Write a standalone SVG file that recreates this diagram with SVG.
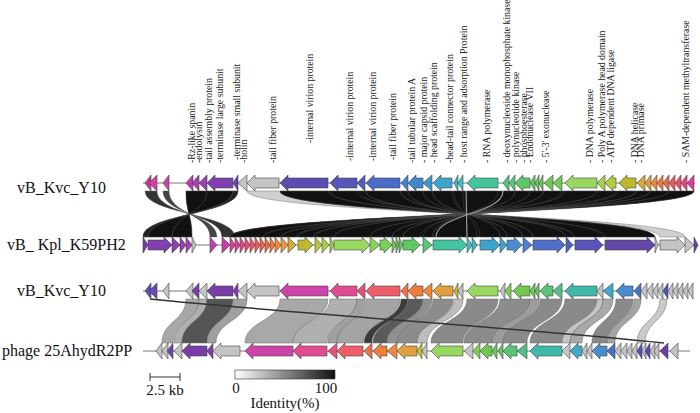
<svg xmlns="http://www.w3.org/2000/svg" width="700" height="413" viewBox="0 0 700 413">
<style>
.lb{font-family:"Liberation Serif","Times New Roman",serif;font-size:9.8px;fill:#222}
.tl{font-family:"Liberation Serif","Times New Roman",serif;font-size:16px;fill:#111}
.lg{font-family:"Liberation Serif","Times New Roman",serif;font-size:15px;fill:#111}
.bb{stroke:#777;stroke-width:1;fill:none}
.gn polygon{stroke:#444;stroke-width:0.6}
.rb path{stroke:#555;stroke-width:0.4}
.rg path{stroke:#666;stroke-width:0.5}
</style>
<defs>
<linearGradient id="idg" x1="0" y1="0" x2="1" y2="0">
<stop offset="0" stop-color="#ffffff"/>
<stop offset="1" stop-color="#111111"/>
</linearGradient>
</defs>
<rect width="700" height="413" fill="#fff"/>

<g id="labels">
<text class="lb" transform="translate(195,163) rotate(-90)">-Rz-like spanin</text>
<text class="lb" transform="translate(202,163) rotate(-90)">-endolysin</text>
<text class="lb" transform="translate(212,163) rotate(-90)">-tail assembly protein</text>
<text class="lb" transform="translate(223,163) rotate(-90)">-terminase large subunit</text>
<text class="lb" transform="translate(240,160) rotate(-90)">-terminase small subunit</text>
<text class="lb" transform="translate(247,163) rotate(-90)">-holin</text>
<text class="lb" transform="translate(276,163) rotate(-90)">-tail fiber protein</text>
<text class="lb" transform="translate(313,143) rotate(-90)">-internal virion protein</text>
<text class="lb" transform="translate(353,161) rotate(-90)">-internal virion protein</text>
<text class="lb" transform="translate(376,161) rotate(-90)">-internal virion protein</text>
<text class="lb" transform="translate(396,160) rotate(-90)">-tail fiber protein</text>
<text class="lb" transform="translate(415,163) rotate(-90)">-tail tubular protein A</text>
<text class="lb" transform="translate(427,163) rotate(-90)">- major capsid protein</text>
<text class="lb" transform="translate(437,163) rotate(-90)">- head scaffolding protein</text>
<text class="lb" transform="translate(453,163) rotate(-90)">-head-tail connector protein</text>
<text class="lb" transform="translate(467,163) rotate(-90)">- host range and adsorption Protein</text>
<text class="lb" transform="translate(490,163) rotate(-90)">-  RNA polymerase</text>
<text class="lb" transform="translate(510,163) rotate(-90)">- deoxynucleoside monophosphate kinase</text>
<text class="lb" transform="translate(519,163) rotate(-90)">- polynucleotide kinase</text>
<text class="lb" transform="translate(527,163) rotate(-90)">- phosphoesterase</text>
<text class="lb" transform="translate(533,163) rotate(-90)">- Endonuclease VII</text>
<text class="lb" transform="translate(549,163) rotate(-90)">-  5'-3' exonuclease</text>
<text class="lb" transform="translate(593,163) rotate(-90)">-  DNA polymerase</text>
<text class="lb" transform="translate(605,163) rotate(-90)">-  Poly A polymerase head domain</text>
<text class="lb" transform="translate(614,163) rotate(-90)">-  ATP dependent DNA ligase</text>
<text class="lb" transform="translate(638,163) rotate(-90)">-  DNA helicase</text>
<text class="lb" transform="translate(644,163) rotate(-90)">-  DNA primase</text>
<text class="lb" transform="translate(689,163) rotate(-90)">-  SAM-dependent methyltransferase</text>
</g>

<g id="connectors">
<g class="rb">
<path d="M247,191 L279,191 C279,214 660,214 660,237 L685,237 C685,214 247,214 247,191 Z" fill="#d0d0d0"/>
<path d="M280,191 L694,191 C694,214 230,214 230,237 L655,237 C655,214 280,214 280,191 Z" fill="#111" stroke="none"/>
<path d="M186,191 L238,191 C238,214 143,214 143,237 L192,237 C192,214 186,214 186,191 Z" fill="#111" stroke="none"/>
<path d="M145,191 L157,191 C157,214 222,214 222,237 L235,237 C235,214 145,214 145,191 Z" fill="#333"/>
<path d="M163,191 L169,191 C169,214 210,214 210,237 L217,237 C217,214 163,214 163,191 Z" fill="#444"/>
<path d="M186,191 L207,191 C207,214 172,214 172,237 L192,237 C192,214 186,214 186,191 Z" fill="#111"/>
<path d="M207,191 L233,191 C233,214 148,214 148,237 L172,237 C172,214 207,214 207,191 Z" fill="#111"/>
<path d="M233,191 L238,191 C238,214 143,214 143,237 L148,237 C148,214 233,214 233,191 Z" fill="#222"/>
<path d="M280,191 L328,191 C328,214 605,214 605,237 L655,237 C655,214 280,214 280,191 Z" fill="#111"/>
<path d="M330,191 L357,191 C357,214 575,214 575,237 L603,237 C603,214 330,214 330,191 Z" fill="#111"/>
<path d="M357,191 L365,191 C365,214 566,214 566,237 L573,237 C573,214 357,214 357,191 Z" fill="#111"/>
<path d="M366,191 L400,191 C400,214 533,214 533,237 L565,237 C565,214 366,214 366,191 Z" fill="#111"/>
<path d="M401,191 L408,191 C408,214 523,214 523,237 L532,237 C532,214 401,214 401,191 Z" fill="#111"/>
<path d="M408,191 L423,191 C423,214 507,214 507,237 L522,237 C522,214 408,214 408,191 Z" fill="#111"/>
<path d="M423,191 L432,191 C432,214 500,214 500,237 L507,237 C507,214 423,214 423,191 Z" fill="#111"/>
<path d="M433,191 L452,191 C452,214 480,214 480,237 L500,237 C500,214 433,214 433,191 Z" fill="#111"/>
<path d="M454,191 L463,191 C463,214 467,214 467,237 L477,237 C477,214 454,214 454,191 Z" fill="#111"/>
<path d="M467,191 L498,191 C498,214 433,214 433,237 L467,237 C467,214 467,214 467,191 Z" fill="#111"/>
<path d="M503,191 L515,191 C515,214 423,214 423,237 L432,237 C432,214 503,214 503,191 Z" fill="#111"/>
<path d="M515,191 L530,191 C530,214 403,214 403,237 L420,237 C420,214 515,214 515,191 Z" fill="#111"/>
<path d="M530,191 L543,191 C543,214 392,214 392,237 L403,237 C403,214 530,214 530,191 Z" fill="#111"/>
<path d="M544,191 L562,191 C562,214 370,214 370,237 L392,237 C392,214 544,214 544,191 Z" fill="#111"/>
<path d="M565,191 L597,191 C597,214 334,214 334,237 L370,237 C370,214 565,214 565,191 Z" fill="#111"/>
<path d="M597,191 L616,191 C616,214 315,214 315,237 L334,237 C334,214 597,214 597,191 Z" fill="#111"/>
<path d="M619,191 L636,191 C636,214 298,214 298,237 L313,237 C313,214 619,214 619,191 Z" fill="#111"/>
<path d="M637,191 L651,191 C651,214 281,214 281,237 L296,237 C296,214 637,214 637,191 Z" fill="#111"/>
<path d="M651,191 L669,191 C669,214 263,214 263,237 L281,237 C281,214 651,214 651,191 Z" fill="#111"/>
<path d="M669,191 L694,191 C694,214 230,214 230,237 L263,237 C263,214 669,214 669,191 Z" fill="#111"/>
</g>
<path d="M466,191 L467,237" stroke="#aaa" stroke-width="1" fill="none"/>
<path d="M503,191 C503,214 436,214 436,237" stroke="#999" stroke-width="1.2" fill="none"/>
<g class="rg">
<path d="M186,299 L199,299 C199,321 173,321 173,343 L162,343 C162,321 186,321 186,299 Z" fill="#a8a8a8"/>
<path d="M199,299 L207,299 C207,321 182,321 182,343 L174,343 C174,321 199,321 199,299 Z" fill="#b0b0b0"/>
<path d="M207,299 L233,299 C233,321 207,321 207,343 L182,343 C182,321 207,321 207,299 Z" fill="#555"/>
<path d="M233,299 L247,299 C247,321 216,321 216,343 L207,343 C207,321 233,321 233,299 Z" fill="#a0a0a0"/>
<path d="M280,299 L328,299 C328,321 293,321 293,343 L245,343 C245,321 280,321 280,299 Z" fill="#a8a8a8"/>
<path d="M330,299 L357,299 C357,321 327,321 327,343 L293,343 C293,321 330,321 330,299 Z" fill="#b0b0b0"/>
<path d="M357,299 L365,299 C365,321 337,321 337,343 L328,343 C328,321 357,321 357,299 Z" fill="#a0a0a0"/>
<path d="M366,299 L400,299 C400,321 363,321 363,343 L337,343 C337,321 366,321 366,299 Z" fill="#a4a4a4"/>
<path d="M401,299 L408,299 C408,321 372,321 372,343 L364,343 C364,321 401,321 401,299 Z" fill="#3c3c3c"/>
<path d="M408,299 L423,299 C423,321 387,321 387,343 L373,343 C373,321 408,321 408,299 Z" fill="#5a5a5a"/>
<path d="M423,299 L432,299 C432,321 397,321 397,343 L387,343 C387,321 423,321 423,299 Z" fill="#909090"/>
<path d="M433,299 L453,299 C453,321 417,321 417,343 L397,343 C397,321 433,321 433,299 Z" fill="#8c8c8c"/>
<path d="M454,299 L463,299 C463,321 427,321 427,343 L417,343 C417,321 454,321 454,299 Z" fill="#bdbdbd"/>
<path d="M467,299 L498,299 C498,321 463,321 463,343 L431,343 C431,321 467,321 467,299 Z" fill="#8a8a8a"/>
<path d="M500,299 L530,299 C530,321 492,321 492,343 L464,343 C464,321 500,321 500,299 Z" fill="#8c8c8c"/>
<path d="M530,299 L539,299 C539,321 503,321 503,343 L492,343 C492,321 530,321 530,299 Z" fill="#9c9c9c"/>
<path d="M540,299 L562,299 C562,321 527,321 527,343 L503,343 C503,321 540,321 540,299 Z" fill="#8a8a8a"/>
<path d="M565,299 L597,299 C597,321 562,321 562,343 L530,343 C530,321 565,321 565,299 Z" fill="#8a8a8a"/>
<path d="M597,299 L603,299 C603,321 570,321 570,343 L562,343 C562,321 597,321 597,299 Z" fill="#c4c4c4"/>
<path d="M603,299 L613,299 C613,321 582,321 582,343 L570,343 C570,321 603,321 603,299 Z" fill="#a8a8a8"/>
<path d="M616,299 L633,299 C633,321 607,321 607,343 L592,343 C592,321 616,321 616,299 Z" fill="#8a8a8a"/>
<path d="M634,299 L641,299 C641,321 615,321 615,343 L607,343 C607,321 634,321 634,299 Z" fill="#a4a4a4"/>
<path d="M660,299 L667,299 C667,321 645,321 645,343 L637,343 C637,321 660,321 660,299 Z" fill="#cacaca"/>
</g>
<path d="M150,299 C300,314 520,328 664,343" stroke="#333" stroke-width="1.5" fill="none"/>
</g>

<g id="track1" class="gn">
<line class="bb" x1="143" y1="183" x2="695" y2="183"/>
<polygon points="145,183 151,175 151,191" fill="#cc3399"/>
<polygon points="149,183 157,175 157,191" fill="#d83fa8"/>
<polygon points="163,183 169,175 169,191" fill="#cc44aa"/>
<polygon points="186,183 193,175 193,191" fill="#b83cb0"/>
<polygon points="192,183 199,175 199,191" fill="#a83eb0"/>
<polygon points="199,183 207,175 207,191" fill="#9840b0"/>
<polygon points="207,183 215,175 215,178 233,178 233,188 215,188 215,191" fill="#8040b0"/>
<polygon points="233,183 238,175 238,191" fill="#6444a8"/>
<polygon points="238,183 247,175 247,191" fill="#c4c4c4"/>
<polygon points="247,183 255,175 255,178 279,178 279,188 255,188 255,191" fill="#c4c4c4"/>
<polygon points="280,183 288,175 288,178 328,178 328,188 288,188 288,191" fill="#5a4cb0"/>
<polygon points="330,183 338,175 338,178 357,178 357,188 338,188 338,191" fill="#5456b8"/>
<polygon points="357,183 365,175 365,191" fill="#4f60c0"/>
<polygon points="366,183 374,175 374,178 400,178 400,188 374,188 374,191" fill="#4a6cc8"/>
<polygon points="401,183 408,175 408,191" fill="#4680cc"/>
<polygon points="408,183 416,175 416,178 423,178 423,188 416,188 416,191" fill="#4088cc"/>
<polygon points="423,183 432,175 432,191" fill="#3c98cc"/>
<polygon points="433,183 441,175 441,178 452,178 452,188 441,188 441,191" fill="#3ca4cc"/>
<polygon points="454,183 458,175 458,191" fill="#38b8c8"/>
<polygon points="458,183 463,175 463,191" fill="#38c4c0"/>
<polygon points="467,183 475,175 475,178 498,178 498,188 475,188 475,191" fill="#44c49c"/>
<polygon points="503,183 509,175 509,191" fill="#50c880"/>
<polygon points="509,183 515,175 515,191" fill="#58c874"/>
<polygon points="515,183 523,175 523,178 530,178 530,188 523,188 523,191" fill="#5ec868"/>
<polygon points="530,183 535,175 535,191" fill="#64c860"/>
<polygon points="535,183 539,175 539,191" fill="#66c85e"/>
<polygon points="539,183 543,175 543,191" fill="#68c85c"/>
<polygon points="544,183 553,175 553,191" fill="#6cc858"/>
<polygon points="553,183 562,175 562,191" fill="#74ca54"/>
<polygon points="565,183 573,175 573,178 597,178 597,188 573,188 573,191" fill="#98d860"/>
<polygon points="597,183 605,175 605,191" fill="#a8d048"/>
<polygon points="605,183 613,175 613,178 616,178 616,188 613,188 613,191" fill="#b0cc40"/>
<polygon points="619,183 627,175 627,178 636,178 636,188 627,188 627,191" fill="#bcb830"/>
<polygon points="637,183 645,175 645,191" fill="#d8a838"/>
<polygon points="645,183 651,175 651,191" fill="#e89a38"/>
<polygon points="651,183 657,175 657,191" fill="#f08a3c"/>
<polygon points="657,183 663,175 663,191" fill="#f0783c"/>
<polygon points="663,183 669,175 669,191" fill="#f06a48"/>
<polygon points="669,183 675,175 675,191" fill="#ee5858"/>
<polygon points="675,183 681,175 681,191" fill="#ec4c6c"/>
<polygon points="681,183 687,175 687,191" fill="#e44680"/>
<polygon points="687,183 694,175 694,191" fill="#dd3c98"/>
</g>

<g id="track2" class="gn">
<line class="bb" x1="143" y1="245" x2="698" y2="245"/>
<polygon points="143,237 148,245 143,253" fill="#7038a8"/>
<polygon points="148,240 164,240 164,237 172,245 164,253 164,250 148,250" fill="#8040b0"/>
<polygon points="172,237 180,245 172,253" fill="#8a40b0"/>
<polygon points="180,237 186,245 180,253" fill="#9840b0"/>
<polygon points="186,237 192,245 186,253" fill="#a040b0"/>
<polygon points="192,237 196,245 192,253" fill="#c4c4c4"/>
<polygon points="210,237 217,245 210,253" fill="#c040b0"/>
<polygon points="222,237 230,245 222,253" fill="#cc3ca8"/>
<polygon points="230,237 235,245 230,253" fill="#d83c9c"/>
<polygon points="235,237 240,245 235,253" fill="#e0408e"/>
<polygon points="240,237 245,245 240,253" fill="#e64680"/>
<polygon points="245,237 250,245 245,253" fill="#ea4c72"/>
<polygon points="250,237 255,245 250,253" fill="#ee5264"/>
<polygon points="255,237 260,245 255,253" fill="#f05858"/>
<polygon points="260,237 265,245 260,253" fill="#f0604c"/>
<polygon points="265,237 270,245 265,253" fill="#f06c42"/>
<polygon points="270,237 275,245 270,253" fill="#f07a3a"/>
<polygon points="275,237 281,245 275,253" fill="#f08838"/>
<polygon points="281,237 288,245 281,253" fill="#e89838"/>
<polygon points="288,237 296,245 288,253" fill="#d8a838"/>
<polygon points="298,240 305,240 305,237 313,245 305,253 305,250 298,250" fill="#c0b830"/>
<polygon points="315,237 322,245 315,253" fill="#b8c438"/>
<polygon points="322,237 329,245 322,253" fill="#a8cc40"/>
<polygon points="330,237 334,245 330,253" fill="#a0d048"/>
<polygon points="334,240 362,240 362,237 370,245 362,253 362,250 334,250" fill="#98d860"/>
<polygon points="370,237 380,245 370,253" fill="#88d458"/>
<polygon points="380,240 384,240 384,237 392,245 384,253 384,250 380,250" fill="#78d058"/>
<polygon points="392,237 396,245 392,253" fill="#70cc58"/>
<polygon points="396,237 399,245 396,253" fill="#6cca5a"/>
<polygon points="399,237 403,245 399,253" fill="#68c85c"/>
<polygon points="403,240 412,240 412,237 420,245 412,253 412,250 403,250" fill="#60c864"/>
<polygon points="423,237 432,245 423,253" fill="#58c874"/>
<polygon points="433,240 459,240 459,237 467,245 459,253 459,250 433,250" fill="#44c4a0"/>
<polygon points="467,237 472,245 467,253" fill="#3cc0c0"/>
<polygon points="472,237 477,245 472,253" fill="#3cb8c8"/>
<polygon points="480,240 492,240 492,237 500,245 492,253 492,250 480,250" fill="#3ca4cc"/>
<polygon points="500,237 507,245 500,253" fill="#40a0d0"/>
<polygon points="507,240 514,240 514,237 522,245 514,253 514,250 507,250" fill="#4a8cd0"/>
<polygon points="523,237 532,245 523,253" fill="#4a80d0"/>
<polygon points="533,240 557,240 557,237 565,245 557,253 557,250 533,250" fill="#5070c8"/>
<polygon points="566,237 573,245 566,253" fill="#5060c0"/>
<polygon points="575,240 595,240 595,237 603,245 595,253 595,250 575,250" fill="#5a54b8"/>
<polygon points="605,240 647,240 647,237 655,245 647,253 647,250 605,250" fill="#6448a8"/>
<polygon points="655,237 658,245 655,253" fill="#c4c4c4"/>
<polygon points="660,240 677,240 677,237 685,245 677,253 677,250 660,250" fill="#c4c4c4"/>
<polygon points="685,237 694,245 685,253" fill="#c4c4c4"/>
<polygon points="694,237 698,245 694,253" fill="#6040a8"/>
</g>

<g id="track3" class="gn">
<line class="bb" x1="143" y1="291" x2="693" y2="291"/>
<polygon points="145,291 151,283 151,299" fill="#5a50b0"/>
<polygon points="149,291 157,283 157,299" fill="#6a48b0"/>
<polygon points="163,291 169,283 169,299" fill="#c4c4c4"/>
<polygon points="186,291 193,283 193,299" fill="#c4c4c4"/>
<polygon points="192,291 199,283 199,299" fill="#7a3ca8"/>
<polygon points="199,291 207,283 207,299" fill="#c4c4c4"/>
<polygon points="207,291 215,283 215,286 233,286 233,296 215,296 215,299" fill="#7a3ca8"/>
<polygon points="233,291 238,283 238,299" fill="#8a3aa8"/>
<polygon points="238,291 247,283 247,299" fill="#c4c4c4"/>
<polygon points="247,291 255,283 255,286 279,286 279,296 255,296 255,299" fill="#c4c4c4"/>
<polygon points="280,291 288,283 288,286 328,286 328,296 288,296 288,299" fill="#cc44aa"/>
<polygon points="330,291 338,283 338,286 357,286 357,296 338,296 338,299" fill="#e04c90"/>
<polygon points="357,291 365,283 365,299" fill="#e8507c"/>
<polygon points="366,291 374,283 374,286 400,286 400,296 374,296 374,299" fill="#ee5e68"/>
<polygon points="401,291 408,283 408,299" fill="#f07048"/>
<polygon points="408,291 416,283 416,286 423,286 423,296 416,296 416,299" fill="#f07c3c"/>
<polygon points="423,291 432,283 432,299" fill="#f0883c"/>
<polygon points="433,291 441,283 441,286 453,286 453,296 441,296 441,299" fill="#e0a040"/>
<polygon points="454,291 458,283 458,299" fill="#c8c030"/>
<polygon points="458,291 463,283 463,299" fill="#c4c4c4"/>
<polygon points="467,291 475,283 475,286 498,286 498,296 475,296 475,299" fill="#98d860"/>
<polygon points="500,291 505,283 505,299" fill="#c4c4c4"/>
<polygon points="505,291 511,283 511,299" fill="#80d050"/>
<polygon points="513,291 521,283 521,286 530,286 530,296 521,296 521,299" fill="#70c850"/>
<polygon points="530,291 535,283 535,299" fill="#70c858"/>
<polygon points="535,291 539,283 539,299" fill="#64c860"/>
<polygon points="540,291 548,283 548,286 553,286 553,296 548,296 548,299" fill="#58c478"/>
<polygon points="553,291 562,283 562,299" fill="#50c088"/>
<polygon points="565,291 573,283 573,286 597,286 597,296 573,296 573,299" fill="#40b8a8"/>
<polygon points="597,291 603,283 603,299" fill="#c4c4c4"/>
<polygon points="603,291 613,283 613,299" fill="#40a8c8"/>
<polygon points="616,291 624,283 624,286 633,286 633,296 624,296 624,299" fill="#4a8cd0"/>
<polygon points="634,291 641,283 641,299" fill="#4a70c8"/>
<polygon points="641,291 647,283 647,299" fill="#c4c4c4"/>
<polygon points="647,291 653,283 653,299" fill="#c4c4c4"/>
<polygon points="653,291 658,283 658,299" fill="#c4c4c4"/>
<polygon points="658,291 663,283 663,299" fill="#c4c4c4"/>
<polygon points="663,291 668,283 668,299" fill="#5050c0"/>
<polygon points="668,291 673,283 673,299" fill="#c4c4c4"/>
<polygon points="673,291 678,283 678,299" fill="#c4c4c4"/>
<polygon points="678,291 683,283 683,299" fill="#c4c4c4"/>
<polygon points="683,291 688,283 688,299" fill="#c4c4c4"/>
<polygon points="688,291 693,283 693,299" fill="#c4c4c4"/>
</g>

<g id="track4" class="gn">
<line class="bb" x1="143" y1="351" x2="690" y2="351"/>
<polygon points="156,351 162,343 162,359" fill="#c4c4c4"/>
<polygon points="162,351 168,343 168,359" fill="#c4c4c4"/>
<polygon points="167,351 173,343 173,359" fill="#6a48b0"/>
<polygon points="174,351 182,343 182,359" fill="#c4c4c4"/>
<polygon points="182,351 190,343 190,346 207,346 207,356 190,356 190,359" fill="#7a3ca8"/>
<polygon points="207,351 213,343 213,359" fill="#8a3aa8"/>
<polygon points="213,351 221,343 221,346 240,346 240,356 221,356 221,359" fill="#c4c4c4"/>
<polygon points="245,351 253,343 253,346 293,346 293,356 253,356 253,359" fill="#cc44aa"/>
<polygon points="293,351 301,343 301,346 327,346 327,356 301,356 301,359" fill="#e04c90"/>
<polygon points="328,351 337,343 337,359" fill="#e8507c"/>
<polygon points="337,351 345,343 345,346 363,346 363,356 345,356 345,359" fill="#ee5e68"/>
<polygon points="364,351 372,343 372,359" fill="#f07048"/>
<polygon points="373,351 381,343 381,346 387,346 387,356 381,356 381,359" fill="#f07c3c"/>
<polygon points="387,351 397,343 397,359" fill="#f0883c"/>
<polygon points="397,351 405,343 405,346 417,346 417,356 405,356 405,359" fill="#e0a040"/>
<polygon points="417,351 422,343 422,359" fill="#c8c030"/>
<polygon points="422,351 427,343 427,359" fill="#c4c4c4"/>
<polygon points="431,351 439,343 439,346 463,346 463,356 439,356 439,359" fill="#98d860"/>
<polygon points="464,351 473,343 473,359" fill="#c4c4c4"/>
<polygon points="473,351 480,343 480,359" fill="#80d050"/>
<polygon points="480,351 488,343 488,346 492,346 492,356 488,356 488,359" fill="#70c850"/>
<polygon points="492,351 497,343 497,359" fill="#70c858"/>
<polygon points="498,351 503,343 503,359" fill="#64c860"/>
<polygon points="503,351 511,343 511,346 517,346 517,356 511,356 511,359" fill="#58c478"/>
<polygon points="517,351 527,343 527,359" fill="#50c088"/>
<polygon points="530,351 538,343 538,346 562,346 562,356 538,356 538,359" fill="#40b8a8"/>
<polygon points="562,351 570,343 570,359" fill="#c4c4c4"/>
<polygon points="570,351 578,343 578,346 582,346 582,356 578,356 578,359" fill="#40a8c8"/>
<polygon points="582,351 587,343 587,359" fill="#c4c4c4"/>
<polygon points="587,351 592,343 592,359" fill="#c4c4c4"/>
<polygon points="592,351 600,343 600,346 607,346 607,356 600,356 600,359" fill="#4a8cd0"/>
<polygon points="607,351 615,343 615,359" fill="#4a70c8"/>
<polygon points="615,351 621,343 621,359" fill="#c4c4c4"/>
<polygon points="621,351 627,343 627,359" fill="#c4c4c4"/>
<polygon points="627,351 632,343 632,359" fill="#c4c4c4"/>
<polygon points="632,351 637,343 637,359" fill="#c4c4c4"/>
<polygon points="637,351 642,343 642,359" fill="#5050c0"/>
<polygon points="642,351 646,343 646,359" fill="#c4c4c4"/>
<polygon points="645,351 650,343 650,359" fill="#5a48b8"/>
<polygon points="650,351 655,343 655,359" fill="#c4c4c4"/>
<polygon points="654,351 659,343 659,359" fill="#c4c4c4"/>
<polygon points="660,351 668,343 668,359" fill="#6a40a8"/>
<polygon points="670,351 678,343 678,359" fill="#c4c4c4"/>
</g>

<g id="track-names">
<text class="tl" x="17" y="193">vB_Kvc_Y10</text>
<text class="tl" x="7" y="250">vB_ Kpl_K59PH2</text>
<text class="tl" x="17" y="296">vB_Kvc_Y10</text>
<text class="tl" x="2" y="356">phage 25AhydR2PP</text>
</g>

<g id="scale-bar">
<path d="M150,373 V381 M150,377 H180 M180,373 V381" stroke="#333" stroke-width="1" fill="none"/>
<text class="lg" x="165" y="395" text-anchor="middle">2.5 kb</text>
</g>

<g id="legend">
<rect x="235" y="370" width="100" height="9" fill="url(#idg)" stroke="#333" stroke-width="0.6"/>
<text class="lg" x="236" y="393" text-anchor="middle">0</text>
<text class="lg" x="326" y="393" text-anchor="middle">100</text>
<text class="lg" x="285" y="408" text-anchor="middle">Identity(%)</text>
</g>
</svg>
